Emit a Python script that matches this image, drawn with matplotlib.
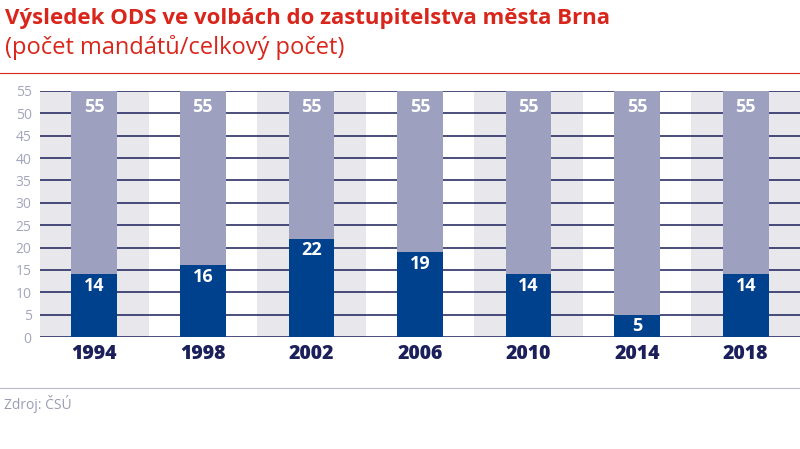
import numpy as np
import matplotlib.pyplot as plt
from matplotlib.lines import Line2D

# data
years = ['1994', '1998', '2002', '2006', '2010', '2014', '2018']
ods_seats = [14, 16, 22, 19, 14, 5, 14]
total_seats = [55, 55, 55, 55, 55, 55, 55]
yticks = [0, 5, 10, 15, 20, 25, 30, 35, 40, 45, 50, 55]

red = '#d9261c'
navy = '#1b1f5a'
dark_bar = '#00418e'
light_bar = '#9da0be'
band = '#e7e7ec'

plt.rcParams['font.family'] = ['Open Sans', 'DejaVu Sans']

fig = plt.figure(figsize=(8, 4.49), dpi=100)
ax = fig.add_axes([0.05, 0.2494, 0.95, 0.548])

x = np.arange(len(years))

# alternating background bands
for i in x:
    if i % 2 == 0:
        ax.axvspan(i - 0.5, i + 0.5, color=band, zorder=0, lw=0)

# gridlines
for t in yticks:
    ax.axhline(t, color=navy, lw=1.1, zorder=1)

ax.bar(x, total_seats, width=0.42, color=light_bar, zorder=2)
ax.bar(x, ods_seats, width=0.42, color=dark_bar, zorder=3)

for i in x:
    ax.annotate(str(total_seats[i]), (i, total_seats[i]), xytext=(0, -5),
                textcoords='offset points', ha='center', va='top',
                color='white', fontsize=13, fontweight='bold', zorder=4)
    ax.annotate(str(ods_seats[i]), (i, ods_seats[i]), xytext=(0, -2),
                textcoords='offset points', ha='center', va='top',
                color='white', fontsize=13, fontweight='bold', zorder=4)

ax.set_xlim(-0.5, len(years) - 0.5)
ax.set_ylim(0, 55)
ax.set_yticks(yticks)
ax.set_xticks(x)
ax.set_xticklabels(years, fontsize=14, fontweight='heavy', color=navy)
ax.tick_params(axis='y', length=0, labelsize=10, labelcolor='#a3a5bd', pad=6)
ax.tick_params(axis='x', length=0, pad=5)
for s in ax.spines.values():
    s.set_visible(False)

# titles
fig.text(0.006, 0.958, 'Výsledek ODS ve volbách do zastupitelstva města Brna',
         color=red, fontsize=16, fontweight='bold', va='center')
fig.text(0.006, 0.895, '(počet mandátů/celkový počet)',
         color=red, fontsize=17, va='center')
fig.add_artist(Line2D([0, 1], [1 - 73 / 449, 1 - 73 / 449], color=red, lw=0.8,
                      transform=fig.transFigure))

# source
fig.add_artist(Line2D([0, 1], [1 - 388 / 449, 1 - 388 / 449], color='#b8bacb',
                      lw=0.8, transform=fig.transFigure))
fig.text(0.005, 1 - 404 / 449, 'Zdroj: ČSÚ', color='#9a9cb4', fontsize=10,
         va='center')

fig.savefig('out.png', dpi=100, facecolor='white')
